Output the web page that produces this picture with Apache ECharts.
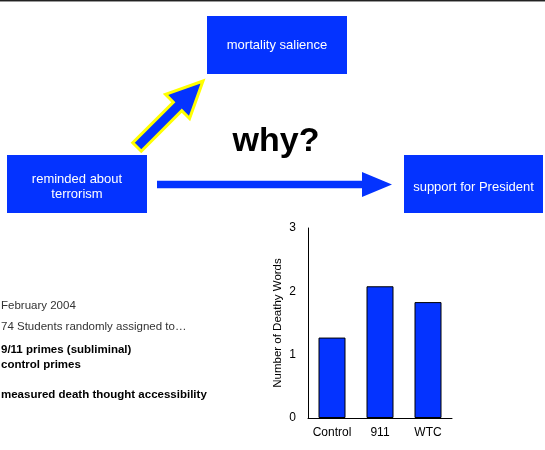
<!DOCTYPE html>
<html><head><meta charset="utf-8">
<script src="https://cdn.jsdelivr.net/npm/echarts@6/dist/echarts.min.js"></script>
<style>html,body{margin:0;padding:0;background:#fff}#c{width:545px;height:450px}</style>
</head><body><div id="c"></div>
<script>
const categories = ['Control', '911', 'WTC'];
const deathWords = [1.27, 2.08, 1.83];
const yTicks = [0, 1, 2, 3];
const yAxisName = 'Number of Deathy Words';
const notes = ['February 2004', '74 Students randomly assigned to…', '9/11 primes (subliminal)', 'control primes', 'measured death thought accessibility'];

const FONT = 'Helvetica, "Liberation Sans", Arial, sans-serif';
const BLUE = '#0433ff';

function arrowPoints(tail, tip, sh, hh, hl) {
  const dx = tip[0] - tail[0], dy = tip[1] - tail[1];
  const L = Math.hypot(dx, dy), ux = dx / L, uy = dy / L, nx = -uy, ny = ux;
  const bx = tip[0] - ux * hl, by = tip[1] - uy * hl;
  return [
    [tail[0] + nx * sh, tail[1] + ny * sh],
    [bx + nx * sh, by + ny * sh],
    [bx + nx * hh, by + ny * hh],
    tip,
    [bx - nx * hh, by - ny * hh],
    [bx - nx * sh, by - ny * sh],
    [tail[0] - nx * sh, tail[1] - ny * sh]
  ];
}

function box(x, y, w, h, text, dy) {
  return {
    type: 'group',
    children: [
      { type: 'rect', shape: { x: x, y: y, width: w, height: h }, style: { fill: BLUE } },
      { type: 'text', x: x + w / 2, y: y + h / 2 + dy,
        style: { text: text, fill: '#fff', font: '13px ' + FONT, align: 'center', verticalAlign: 'middle', lineHeight: 15 } }
    ]
  };
}

const chart = echarts.init(document.getElementById('c'), null, { renderer: 'canvas' });
chart.setOption({
  animation: false,
  backgroundColor: '#fff',
  grid: { left: 308, top: 228, width: 144, height: 190, containLabel: false },
  xAxis: {
    type: 'category', data: categories,
    axisLine: { lineStyle: { color: '#000', width: 1 } },
    axisTick: { show: false },
    axisLabel: { color: '#000', fontSize: 12, fontFamily: FONT, margin: 9, interval: 0, hideOverlap: false }
  },
  yAxis: {
    type: 'value', min: yTicks[0], max: yTicks[yTicks.length - 1], interval: 1,
    name: yAxisName, nameLocation: 'middle', nameGap: 24, nameRotate: 90,
    nameTextStyle: { color: '#000', fontSize: 11.5, fontFamily: FONT },
    axisLine: { show: true, lineStyle: { color: '#000', width: 1 } },
    axisTick: { show: false },
    splitLine: { show: false },
    axisLabel: { color: '#000', fontSize: 12, fontFamily: FONT, margin: 12 }
  },
  series: [{
    type: 'bar', data: deathWords, barWidth: 27,
    itemStyle: { color: BLUE, borderColor: '#000', borderWidth: 1 }
  }],
  graphic: [
    { type: 'rect', shape: { x: 0, y: 0, width: 545, height: 1 }, style: { fill: '#222' } },
    { type: 'rect', shape: { x: 0, y: 1, width: 545, height: 1 }, style: { fill: '#999' } },
    box(207, 16, 140, 58, 'mortality salience', 0),
    box(7, 155, 140, 58, 'reminded about\nterrorism', 3),
    box(404, 155, 139, 58, 'support for President', 3),
    { type: 'polygon', shape: { points: arrowPoints([157, 184.5], [392, 184.5], 3.8, 12.5, 30) }, style: { fill: BLUE } },
    { type: 'polygon', shape: { points: arrowPoints([137, 147], [203, 81], 6, 17, 36) },
      style: { fill: BLUE, stroke: '#ffff00', lineWidth: 3, lineJoin: 'miter' } },
    { type: 'text', x: 276, y: 142, style: { text: 'why?', fill: '#000', font: 'bold 34px ' + FONT, align: 'center', verticalAlign: 'middle' } },
    { type: 'text', x: 1, y: 306, style: { text: notes[0], fill: '#333', font: '11.5px ' + FONT, verticalAlign: 'middle' } },
    { type: 'text', x: 1, y: 327, style: { text: notes[1], fill: '#333', font: '11.5px ' + FONT, verticalAlign: 'middle' } },
    { type: 'text', x: 1, y: 350, style: { text: notes[2], fill: '#000', font: 'bold 11.5px ' + FONT, verticalAlign: 'middle' } },
    { type: 'text', x: 1, y: 365, style: { text: notes[3], fill: '#000', font: 'bold 11.5px ' + FONT, verticalAlign: 'middle' } },
    { type: 'text', x: 1, y: 395, style: { text: notes[4], fill: '#000', font: 'bold 11.5px ' + FONT, verticalAlign: 'middle' } }
  ]
});
</script></body></html>
